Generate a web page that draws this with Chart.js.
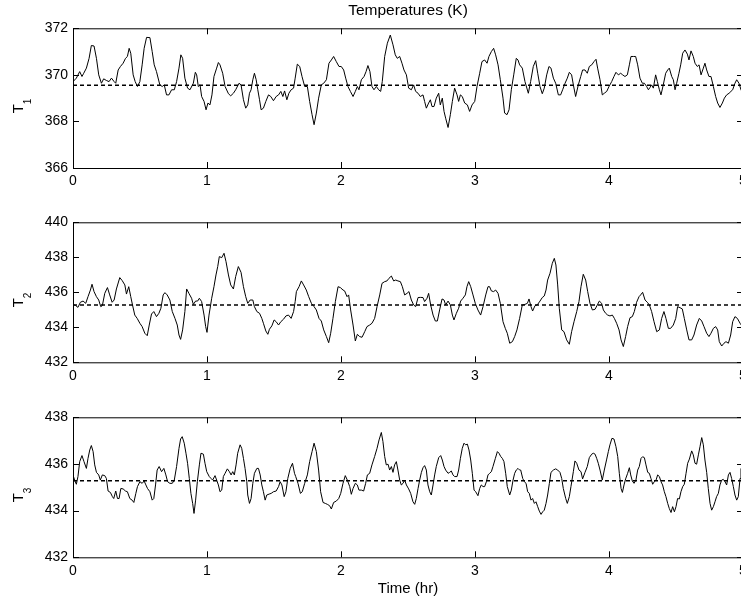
<!DOCTYPE html>
<html>
<head>
<meta charset="utf-8">
<script src="https://cdn.jsdelivr.net/npm/chart.js@4"></script>
<style>
  body { margin: 0; background: #fff; }
  #wrap { position: relative; width: 741px; height: 605px; overflow: hidden; }
  canvas { position: absolute; left: 0; }
  .ylab {
    position: absolute; left: 17.5px; white-space: nowrap;
    font: 15px/15px "Liberation Sans", Arial, Helvetica, sans-serif; color: #000;
    transform: translate(-50%, -50%) rotate(-90deg);
  }
  .ylab span { font-size: 10px; position: relative; top: 8px; }
</style>
</head>
<body>
<div id="wrap">
  <canvas id="c1" width="760" height="194" style="top:0px"></canvas>
  <canvas id="c2" width="760" height="194" style="top:194px"></canvas>
  <canvas id="c3" width="760" height="216" style="top:389px"></canvas>
</div>
<script>
// [time (hr), temperature (K)]
const t1Readings = [
  [0,369.71],[0.025,369.86],[0.050,370.14],[0.067,369.93],[0.080,370.07],[0.100,370.29],[0.120,370.71],[0.137,371.26],[0.157,371.24],[0.175,370.71],
  [0.192,370.00],[0.212,369.64],[0.229,369.83],[0.249,369.76],[0.269,369.71],[0.287,369.86],[0.307,369.71],[0.319,369.64],[0.337,370.21],[0.354,370.36],
  [0.374,370.50],[0.392,370.71],[0.406,370.79],[0.419,371.14],[0.431,370.93],[0.449,370.00],[0.464,369.71],[0.481,369.50],[0.499,369.71],[0.516,370.43],
  [0.531,371.14],[0.549,371.61],[0.574,371.60],[0.591,371.00],[0.606,370.43],[0.623,370.14],[0.648,369.57],[0.666,369.50],[0.681,369.57],[0.698,369.14],
  [0.716,369.14],[0.736,369.36],[0.756,369.36],[0.773,369.71],[0.791,370.29],[0.805,370.86],[0.818,370.71],[0.835,369.86],[0.855,369.43],[0.873,369.36],
  [0.898,369.64],[0.913,370.11],[0.923,370.00],[0.935,369.50],[0.948,369.57],[0.960,369.07],[0.978,368.86],[0.993,368.50],[1.007,368.79],[1.022,368.71],
  [1.037,369.14],[1.052,369.93],[1.072,370.29],[1.085,370.53],[1.097,370.43],[1.117,370.07],[1.135,369.50],[1.160,369.19],[1.177,369.10],[1.197,369.21],
  [1.214,369.36],[1.239,369.64],[1.254,369.57],[1.272,368.93],[1.289,368.57],[1.304,368.71],[1.317,369.21],[1.329,369.36],[1.342,369.79],[1.354,370.07],
  [1.367,369.79],[1.379,369.36],[1.392,368.93],[1.404,368.50],[1.421,368.57],[1.439,368.86],[1.459,369.14],[1.476,369.07],[1.496,368.89],[1.516,369.07],
  [1.534,369.14],[1.551,369.29],[1.566,369.07],[1.579,369.31],[1.596,368.93],[1.611,369.21],[1.628,369.36],[1.646,369.43],[1.658,369.86],
  [1.674,370.46],[1.692,370.36],[1.709,369.93],[1.729,369.50],[1.749,369.50],[1.766,368.86],[1.784,368.29],[1.799,367.86],[1.816,368.36],[1.833,369.00],
  [1.853,369.57],[1.871,369.64],[1.891,369.79],[1.910,370.50],[1.928,370.64],[1.945,370.79],[1.965,370.57],[1.985,370.36],[2.002,370.36],[2.020,370.21],
  [2.035,369.86],[2.052,369.50],[2.070,369.29],[2.090,369.07],[2.107,369.29],[2.122,369.50],[2.134,369.36],[2.152,369.79],[2.172,369.93],[2.187,370.14],
  [2.201,370.40],[2.216,370.14],[2.231,369.50],[2.246,369.36],[2.264,369.50],[2.281,369.36],[2.296,369.29],[2.308,369.71],[2.326,370.79],[2.346,371.36],
  [2.368,371.71],[2.388,371.29],[2.405,370.86],[2.420,370.71],[2.438,370.79],[2.455,370.50],[2.470,370.21],[2.488,370.00],[2.505,369.43],[2.525,369.36],
  [2.542,369.57],[2.557,369.29],[2.575,369.21],[2.592,369.07],[2.612,369.14],[2.624,368.86],[2.637,368.57],[2.654,368.79],[2.667,368.93],[2.679,368.64],
  [2.694,368.64],[2.711,369.00],[2.729,369.21],[2.741,368.71],[2.756,369.00],[2.769,368.43],[2.781,368.14],[2.799,367.74],[2.816,368.29],[2.831,368.86],
  [2.848,369.43],[2.866,369.14],[2.878,368.86],[2.891,369.14],[2.905,369.07],[2.923,368.79],[2.943,368.71],[2.960,368.43],[2.978,368.71],[2.998,368.86],
  [3.015,369.50],[3.035,370.07],[3.052,370.57],[3.072,370.64],[3.090,370.50],[3.104,370.79],[3.122,371.00],[3.139,371.14],[3.154,370.86],[3.172,370.43],
  [3.189,369.79],[3.209,369.00],[3.221,368.36],[3.239,368.29],[3.254,368.50],[3.271,369.36],[3.289,370.00],[3.308,370.71],[3.321,370.64],[3.333,370.43],
  [3.353,370.29],[3.373,369.71],[3.398,369.21],[3.415,369.71],[3.435,370.36],[3.453,370.61],[3.468,370.07],[3.485,369.50],[3.502,369.19],[3.517,369.43],
  [3.535,370.00],[3.552,370.36],[3.567,370.29],[3.585,369.86],[3.602,369.64],[3.622,369.14],[3.639,369.14],[3.654,369.36],[3.672,369.64],[3.689,369.86],
  [3.704,370.11],[3.721,370.00],[3.734,369.57],[3.751,369.07],[3.771,369.57],[3.789,369.93],[3.803,370.21],[3.821,370.21],[3.838,370.07],[3.853,370.36],
  [3.871,370.43],[3.888,370.57],[3.903,370.67],[3.915,370.29],[3.933,369.79],[3.950,369.14],[3.965,369.21],[3.983,369.29],[4.000,369.50],[4.020,369.71],
  [4.037,369.93],[4.052,370.11],[4.070,370.00],[4.087,370.07],[4.102,370.00],[4.119,369.93],[4.137,370.00],[4.152,370.43],[4.164,370.79],[4.182,370.79],
  [4.199,370.79],[4.214,370.43],[4.231,369.86],[4.249,369.64],[4.264,369.64],[4.281,369.50],[4.294,369.36],[4.306,369.46],[4.318,369.57],[4.331,369.43],
  [4.348,370.00],[4.361,369.71],[4.376,369.36],[4.388,369.14],[4.405,369.57],[4.423,370.07],[4.438,370.21],[4.450,370.29],[4.468,369.93],[4.480,369.79],
  [4.493,369.36],[4.505,369.64],[4.522,370.07],[4.535,370.43],[4.550,370.93],[4.567,371.07],[4.585,370.89],[4.597,370.64],[4.612,371.03],[4.629,370.79],
  [4.642,370.50],[4.659,370.36],[4.672,370.43],[4.687,370.00],[4.704,370.29],[4.716,370.50],[4.729,370.21],[4.746,369.93],[4.761,369.93],[4.779,369.50],
  [4.796,369.07],[4.811,368.79],[4.828,368.60],[4.846,368.79],[4.861,369.00],[4.878,369.14],[4.896,369.21],[4.910,369.29],[4.923,369.36],[4.940,369.64],
  [4.953,369.79],[4.970,369.64],[4.985,369.36],[5.000,369.20]
];

const t2Readings = [
  [0,435.31],[0.020,435.24],[0.037,435.14],[0.055,435.43],[0.075,435.50],[0.095,435.37],[0.112,435.75],[0.130,436.13],[0.142,436.46],[0.157,436.04],
  [0.175,435.75],[0.192,435.56],[0.207,435.18],[0.219,435.24],[0.237,435.94],[0.257,436.27],[0.274,435.85],[0.292,435.43],[0.307,435.56],[0.324,436.19],
  [0.349,436.84],[0.367,436.67],[0.387,436.42],[0.399,435.90],[0.416,436.32],[0.431,435.75],[0.444,435.28],[0.461,434.70],[0.479,434.51],[0.499,434.23],
  [0.516,434.04],[0.536,433.66],[0.554,433.52],[0.569,434.13],[0.586,434.76],[0.603,434.90],[0.623,434.61],[0.641,434.80],[0.656,435.09],[0.673,435.85],
  [0.686,435.98],[0.703,435.85],[0.723,435.56],[0.741,434.90],[0.761,434.51],[0.778,434.13],[0.791,433.56],[0.803,433.31],[0.818,433.85],[0.835,434.90],
  [0.848,436.19],[0.865,435.94],[0.885,435.66],[0.898,435.31],[0.915,435.50],[0.930,435.50],[0.943,435.66],[0.960,435.47],[0.978,434.70],[0.990,434.04],
  [1.000,433.71],[1.015,434.70],[1.035,435.66],[1.052,436.32],[1.067,436.99],[1.080,437.47],[1.092,438.04],[1.110,437.98],[1.127,438.23],[1.142,437.75],
  [1.160,436.99],[1.177,436.42],[1.197,436.19],[1.214,436.90],[1.234,437.47],[1.254,437.14],[1.272,436.32],[1.289,435.75],[1.304,435.37],[1.322,435.56],
  [1.342,435.56],[1.354,435.18],[1.372,434.90],[1.392,434.80],[1.409,434.51],[1.421,434.23],[1.439,433.79],[1.454,433.60],[1.466,433.89],[1.484,434.08],
  [1.501,434.42],[1.516,434.32],[1.534,434.13],[1.551,434.32],[1.571,434.46],[1.589,434.65],[1.608,434.70],[1.628,434.51],[1.646,434.90],[1.658,435.47],
  [1.667,436.04],[1.687,436.32],[1.704,436.65],[1.721,436.42],[1.741,436.13],[1.759,435.75],[1.779,435.37],[1.799,435.18],[1.816,434.99],[1.836,434.51],
  [1.853,434.36],[1.871,433.85],[1.891,433.47],[1.908,433.12],[1.923,433.66],[1.940,434.51],[1.958,435.47],[1.978,436.32],[1.995,436.27],[2.015,436.13],
  [2.027,436.08],[2.045,435.75],[2.057,435.85],[2.072,434.99],[2.090,434.13],[2.107,433.22],[2.122,433.60],[2.139,433.47],[2.157,433.43],[2.177,433.75],
  [2.194,434.04],[2.214,434.13],[2.231,434.23],[2.251,434.51],[2.269,435.18],[2.289,435.85],[2.306,436.51],[2.326,436.61],[2.343,436.65],[2.358,436.80],
  [2.376,436.93],[2.393,436.65],[2.408,436.70],[2.425,436.65],[2.443,436.61],[2.458,436.32],[2.475,435.85],[2.493,435.94],[2.507,436.04],[2.525,435.56],
  [2.542,435.28],[2.557,435.18],[2.575,435.70],[2.592,435.71],[2.612,435.70],[2.624,435.47],[2.642,435.66],[2.654,435.94],[2.669,435.28],[2.687,434.70],
  [2.704,434.36],[2.719,434.36],[2.736,434.99],[2.754,435.62],[2.769,435.56],[2.781,435.28],[2.799,435.50],[2.816,435.28],[2.831,434.70],[2.843,434.42],
  [2.861,434.80],[2.878,435.09],[2.893,435.50],[2.910,435.66],[2.928,435.85],[2.940,436.32],[2.953,436.61],[2.968,436.32],[2.985,435.85],[3.002,435.37],
  [3.022,434.99],[3.042,434.70],[3.060,435.18],[3.080,435.85],[3.097,436.32],[3.109,436.32],[3.122,436.08],[3.139,436.04],[3.154,436.13],[3.172,435.94],
  [3.189,435.37],[3.209,434.32],[3.226,433.94],[3.241,433.66],[3.259,433.09],[3.279,433.18],[3.296,433.47],[3.313,433.85],[3.333,434.51],
  [3.353,435.28],[3.373,435.31],[3.391,435.37],[3.403,435.62],[3.418,435.18],[3.430,434.93],[3.448,435.24],[3.465,435.28],[3.485,435.50],[3.502,435.70],
  [3.517,435.79],[3.530,436.13],[3.542,436.70],[3.560,437.09],[3.577,437.66],[3.592,437.94],[3.604,437.56],[3.617,436.42],[3.629,435.09],[3.647,433.85],
  [3.664,433.75],[3.684,433.28],[3.704,433.03],[3.721,433.75],[3.739,434.32],[3.759,434.90],[3.776,435.47],[3.791,436.32],[3.808,437.03],[3.826,436.70],
  [3.841,436.04],[3.858,435.37],[3.876,434.99],[3.896,435.03],[3.913,435.28],[3.928,435.50],[3.945,435.37],[3.958,434.99],[3.975,434.80],[3.990,434.70],
  [4.007,434.65],[4.025,434.70],[4.040,434.51],[4.057,434.23],[4.075,433.85],[4.090,433.28],[4.107,432.90],[4.124,433.47],[4.139,434.04],[4.157,434.55],
  [4.174,434.61],[4.189,434.90],[4.206,435.43],[4.224,435.75],[4.236,435.85],[4.251,436.00],[4.269,435.56],[4.286,435.43],[4.301,435.28],[4.318,434.90],
  [4.336,434.32],[4.356,433.75],[4.376,433.85],[4.393,434.51],[4.410,434.90],[4.425,434.51],[4.443,433.94],[4.460,433.94],[4.480,434.13],[4.498,434.51],
  [4.512,435.18],[4.530,435.12],[4.547,435.05],[4.562,434.51],[4.580,433.85],[4.597,433.28],[4.617,433.28],[4.634,433.56],[4.654,434.13],[4.674,434.51],
  [4.692,434.36],[4.709,434.04],[4.729,433.66],[4.746,433.47],[4.761,433.66],[4.779,433.94],[4.796,434.04],[4.811,433.85],[4.823,433.18],[4.841,432.93],
  [4.858,433.09],[4.873,433.18],[4.891,433.09],[4.908,433.56],[4.923,434.32],[4.940,434.61],[4.958,434.51],[4.978,434.23],[5.000,434.00]
];

const t3Readings = [
  [0,435.53],[0.012,435.31],[0.025,435.13],[0.037,435.46],[0.050,436.10],[0.067,436.36],[0.082,436.10],[0.100,435.81],[0.112,436.24],[0.125,436.60],
  [0.137,436.79],[0.150,436.53],[0.162,435.96],[0.175,435.64],[0.192,435.53],[0.204,435.31],[0.219,435.53],[0.237,435.50],[0.249,435.38],[0.262,434.84],
  [0.279,434.78],[0.294,434.60],[0.304,434.52],[0.319,434.84],[0.332,434.52],[0.344,434.52],[0.357,434.95],[0.374,434.93],[0.392,434.84],[0.406,434.81],
  [0.424,434.52],[0.441,434.45],[0.454,434.35],[0.469,434.74],[0.481,435.03],[0.499,435.24],[0.516,435.17],[0.531,435.27],[0.544,435.10],[0.556,434.95],
  [0.574,434.81],[0.591,434.45],[0.603,434.52],[0.616,435.10],[0.628,435.74],[0.643,435.89],[0.661,435.67],[0.678,435.81],[0.693,435.53],[0.706,435.24],
  [0.723,435.17],[0.741,435.17],[0.756,435.31],[0.773,435.89],[0.791,436.67],[0.803,437.07],[0.815,437.17],[0.830,436.89],[0.843,436.46],[0.855,436.03],
  [0.868,435.38],[0.880,434.74],[0.893,434.31],[0.903,433.88],[0.915,434.45],[0.928,435.24],[0.943,435.96],[0.955,436.46],[0.973,436.42],[0.985,436.03],
  [0.998,435.67],[1.017,435.46],[1.030,435.38],[1.042,435.31],[1.060,435.50],[1.072,435.31],[1.085,435.10],[1.097,434.81],[1.110,434.88],[1.122,435.46],
  [1.135,435.60],[1.152,435.79],[1.167,435.67],[1.180,435.53],[1.192,435.67],[1.204,435.53],[1.217,435.96],[1.229,436.46],[1.247,436.82],[1.259,436.67],
  [1.272,436.24],[1.284,435.81],[1.297,435.24],[1.304,434.67],[1.317,434.31],[1.329,434.52],[1.342,435.17],[1.354,435.60],[1.372,435.81],[1.384,435.81],
  [1.397,435.53],[1.409,435.10],[1.421,434.81],[1.434,434.45],[1.446,434.67],[1.464,434.71],[1.479,434.74],[1.496,434.81],[1.516,434.84],[1.534,435.03],
  [1.546,435.24],[1.559,435.10],[1.576,434.60],[1.589,434.81],[1.603,435.38],[1.621,435.81],[1.638,436.03],[1.653,435.60],
  [1.662,435.46],[1.679,435.17],[1.697,434.74],[1.711,434.81],[1.729,435.17],[1.749,435.53],[1.766,436.10],[1.784,436.53],[1.799,436.89],[1.816,436.53],
  [1.833,435.74],[1.848,434.81],[1.866,434.35],[1.883,434.31],[1.898,434.27],[1.915,434.21],[1.928,434.07],[1.945,434.35],[1.965,434.41],[1.983,434.52],
  [1.998,434.74],[2.015,435.17],[2.032,435.50],[2.047,435.31],[2.065,435.03],[2.077,434.70],[2.090,434.95],[2.107,435.17],[2.122,435.10],[2.134,434.88],
  [2.152,434.88],[2.169,434.84],[2.184,435.17],[2.197,435.53],[2.214,435.60],[2.231,435.96],[2.251,436.32],[2.269,436.67],[2.284,437.03],[2.301,437.35],
  [2.313,436.96],[2.326,436.32],[2.338,435.96],[2.351,435.99],[2.363,435.74],[2.376,435.89],[2.388,435.64],[2.400,435.96],[2.413,436.10],[2.425,435.74],
  [2.438,435.31],[2.450,435.10],[2.463,435.17],[2.475,435.31],[2.488,435.10],[2.505,434.93],[2.520,434.74],[2.537,434.38],[2.550,434.27],[2.562,434.52],
  [2.575,434.95],[2.587,435.31],[2.600,435.64],[2.612,435.84],[2.624,435.93],[2.637,435.74],[2.649,435.10],[2.662,434.81],[2.674,434.67],[2.687,435.10],
  [2.699,435.53],[2.711,435.89],[2.729,436.27],[2.744,436.36],[2.756,436.17],[2.769,435.89],[2.781,435.74],[2.799,435.60],[2.811,435.64],[2.823,435.70],
  [2.836,435.53],[2.848,435.46],[2.866,435.46],[2.878,435.74],[2.891,436.24],[2.905,436.67],[2.918,436.89],[2.930,436.82],[2.943,436.85],[2.955,436.60],
  [2.968,436.17],[2.980,435.60],[2.993,434.88],[3.005,434.81],[3.022,434.64],[3.035,434.95],[3.047,435.10],[3.060,435.03],[3.072,435.03],[3.085,435.24],
  [3.097,435.53],[3.109,435.60],[3.122,435.67],[3.134,435.89],[3.152,436.24],[3.167,436.53],[3.179,436.46],[3.192,436.32],[3.204,436.24],[3.216,436.10],
  [3.229,435.60],[3.241,435.03],[3.259,434.67],[3.271,434.88],[3.284,435.31],[3.296,435.60],[3.308,435.74],[3.321,435.81],[3.333,435.74],
  [3.341,435.74],[3.356,435.38],[3.368,435.24],[3.381,435.17],[3.393,434.81],[3.405,434.74],[3.418,434.45],[3.430,434.52],[3.443,434.31],[3.455,434.38],
  [3.468,434.17],[3.480,433.98],[3.493,433.84],[3.505,433.95],[3.517,434.02],[3.530,434.31],[3.542,434.67],[3.555,435.17],[3.567,435.64],[3.585,435.74],
  [3.602,435.79],[3.617,435.74],[3.634,435.64],[3.647,435.38],[3.659,434.95],[3.677,434.52],[3.689,434.31],[3.704,434.60],[3.716,435.03],[3.734,435.67],
  [3.746,436.13],[3.759,436.03],[3.776,435.74],[3.791,435.67],[3.803,435.36],[3.821,435.64],[3.838,435.89],[3.853,436.27],[3.871,436.42],[3.883,436.46],
  [3.896,436.42],[3.908,436.24],[3.920,436.03],[3.933,435.74],[3.950,435.31],[3.965,435.74],[3.983,436.21],[3.995,436.53],[4.007,436.82],[4.022,437.10],
  [4.037,437.07],[4.052,436.74],[4.065,436.32],[4.077,435.60],[4.090,434.95],[4.100,434.78],[4.112,435.10],[4.124,435.36],[4.139,435.60],[4.152,435.84],
  [4.162,435.53],[4.174,435.27],[4.187,435.17],[4.201,435.31],[4.214,435.74],[4.226,435.89],[4.239,436.24],[4.251,436.31],[4.264,436.27],[4.276,435.96],
  [4.289,435.64],[4.301,435.60],[4.313,435.38],[4.326,435.13],[4.338,435.24],[4.351,435.31],[4.363,435.53],[4.376,435.46],[4.388,435.24],[4.400,435.10],
  [4.413,434.81],[4.425,434.60],[4.438,434.31],[4.450,434.09],[4.463,433.92],[4.475,434.17],[4.488,433.95],[4.500,434.17],[4.512,434.52],[4.525,434.50],
  [4.537,434.81],[4.550,435.03],[4.562,435.13],[4.575,435.60],[4.587,436.03],[4.600,436.21],[4.617,436.56],[4.629,436.39],[4.642,436.03],[4.654,435.99],
  [4.667,436.39],[4.679,436.74],[4.692,437.13],[4.704,436.82],[4.716,436.17],[4.729,435.64],[4.741,434.95],[4.754,434.31],[4.766,434.02],[4.779,434.17],
  [4.791,434.38],[4.803,434.60],[4.816,434.74],[4.828,435.10],[4.841,435.31],[4.853,435.34],[4.866,435.24],[4.878,435.10],[4.891,435.53],[4.903,435.64],
  [4.915,435.38],[4.928,435.03],[4.940,434.67],[4.953,434.45],[4.965,434.60],[4.978,435.38],[4.985,435.81]
];

const setpoints = [369.55, 435.27, 435.28];
const yRanges = [[366, 372], [432, 440], [432, 438]];
const ySubscripts = ["1", "2", "3"];
const timeRange = [0, 5];

Chart.defaults.font.family = '"Liberation Sans", Arial, Helvetica, sans-serif';
Chart.defaults.color = "#000";

// matlab style axes box with inward ticks
const boxPlugin = {
  id: "box",
  afterDatasetsDraw(chart) {
    const { ctx, chartArea: a, scales } = chart;
    const len = 6;
    ctx.save();
    ctx.strokeStyle = "#000";
    ctx.lineWidth = 1;
    ctx.strokeRect(a.left + 0.5, a.top + 0.5, a.right - a.left, a.bottom - a.top);
    ctx.beginPath();
    scales.x.ticks.forEach(t => {
      const x = Math.round(scales.x.getPixelForValue(t.value)) + 0.5;
      ctx.moveTo(x, a.bottom); ctx.lineTo(x, a.bottom - len);
      ctx.moveTo(x, a.top); ctx.lineTo(x, a.top + len);
    });
    scales.y.ticks.forEach(t => {
      const y = Math.round(scales.y.getPixelForValue(t.value)) + 0.5;
      ctx.moveTo(a.left, y); ctx.lineTo(a.left + len, y);
      ctx.moveTo(a.right, y); ctx.lineTo(a.right - len, y);
    });
    ctx.stroke();
    ctx.restore();
  }
};

// y label "T" with a real subscript, placed next to the plot area
function addYLabel(chart, canvasTop, sub) {
  const a = chart.chartArea;
  const div = document.createElement("div");
  div.className = "ylab";
  div.style.top = (canvasTop + (a.top + a.bottom) / 2 + 7.7) + "px";
  div.innerHTML = "T<span>" + sub + "</span>";
  document.getElementById("wrap").appendChild(div);
}

function drawPanel(id, readings, setpoint, range, extra) {
  return new Chart(document.getElementById(id), {
    type: "line",
    data: {
      datasets: [
        {
          data: readings.map(r => ({ x: r[0], y: r[1] })),
          borderColor: "#000",
          borderWidth: 1,
          pointRadius: 0,
          tension: 0
        },
        {
          data: [{ x: timeRange[0], y: setpoint }, { x: timeRange[1], y: setpoint }],
          borderColor: "#000",
          borderWidth: 1.5,
          borderDash: [4, 3],
          pointRadius: 0
        }
      ]
    },
    options: {
      responsive: false,
      animation: false,
      events: [],
      layout: { padding: { top: extra.padTop, right: 17, left: 0, bottom: 0 } },
      plugins: {
        legend: { display: false },
        tooltip: { enabled: false },
        title: extra.title || { display: false }
      },
      scales: {
        x: {
          type: "linear",
          min: timeRange[0],
          max: timeRange[1],
          grid: { display: false, drawTicks: false },
          border: { display: false },
          ticks: { stepSize: 1, padding: 5, font: { size: 14 }, maxRotation: 0 },
          title: extra.xTitle || { display: false },
          afterFit: s => { s.height = extra.xHeight; }
        },
        y: {
          min: range[0],
          max: range[1],
          grid: { display: false, drawTicks: false },
          border: { display: false },
          ticks: { stepSize: 2, padding: 5, font: { size: 14 } },
          afterFit: s => { s.width = 73; }
        }
      }
    },
    plugins: [boxPlugin]
  });
}

const chart1 = drawPanel("c1", t1Readings, setpoints[0], yRanges[0], {
  padTop: 0,
  xHeight: 26,
  title: {
    display: true,
    text: "Temperatures (K)",
    fullSize: false,
    font: { size: 15.5, weight: "normal" },
    padding: { top: 1, bottom: 8.7 }
  }
});
const chart2 = drawPanel("c2", t2Readings, setpoints[1], yRanges[1], {
  padTop: 28.3,
  xHeight: 25.7
});
const chart3 = drawPanel("c3", t3Readings, setpoints[2], yRanges[2], {
  padTop: 28.3,
  xHeight: 47.7,
  xTitle: { display: true, text: "Time (hr)", font: { size: 15 }, padding: { top: 0, bottom: 7.6 } }
});

addYLabel(chart1, 0, ySubscripts[0]);
addYLabel(chart2, 194, ySubscripts[1]);
addYLabel(chart3, 389, ySubscripts[2]);
</script>
</body>
</html>
